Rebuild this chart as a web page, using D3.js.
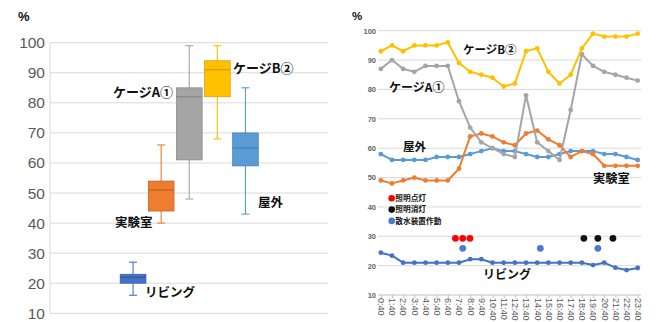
<!DOCTYPE html>
<html>
<head>
<meta charset="utf-8">
<script src="https://cdn.jsdelivr.net/npm/d3@7"></script>
<style>
  html, body { margin: 0; padding: 0; background: #fff; }
  svg { display: block; }
  .jp { font-family: "Noto Sans CJK JP", "Noto Sans", sans-serif; font-weight: bold; fill: #111; }
</style>
</head>
<body>
<svg id="chart" width="658" height="322"></svg>
<script>
// ---- Box plot: humidity distribution per location ----
const boxSeries = ["リビング", "実験室", "ケージA①", "ケージB②", "屋外"];
const boxMin    = [16, 40, 48, 68, 43];
const boxQ1     = [20, 44, 61, 82, 59];
const boxMedian = [22, 51, 82, 91, 65];
const boxQ3     = [23, 54, 85, 94, 70];
const boxMax    = [27, 66, 99, 99, 85];
const leftTicks = [10, 20, 30, 40, 50, 60, 70, 80, 90, 100];

// ---- Line chart: hourly humidity ----
const timeLabels = ["0:40", "1:40", "2:40", "3:40", "4:40", "5:40", "6:40", "7:40",
  "8:40", "9:40", "10:40", "11:40", "12:40", "13:40", "14:40", "15:40",
  "16:40", "17:40", "18:40", "19:40", "20:40", "21:40", "22:40", "23:40"];
const cageB   = [93, 95, 93, 95, 95, 95, 96, 89, 86, 85, 84, 81, 82, 93, 94, 86, 82, 85, 94, 99, 98, 98, 98, 99];
const cageA   = [87, 90, 87, 86, 88, 88, 88, 76, 67, 62, 60, 58, 57, 78, 62, 59, 56, 73, 92, 88, 86, 85, 84, 83];
const outdoor = [58, 56, 56, 56, 56, 57, 57, 57, 58, 59, 60, 59, 59, 58, 57, 57, 58, 59, 59, 59, 58, 58, 57, 56];
const lab     = [49, 48, 49, 50, 49, 49, 49, 53, 64, 65, 64, 62, 61, 65, 66, 63, 61, 57, 59, 58, 54, 54, 54, 54];
const living  = [24.4, 23.4, 21, 21, 21, 21, 21, 21, 22.2, 22.2, 21, 21, 21, 21, 21, 21, 21, 21, 21, 20.2, 21, 19.3, 18.5, 19.2];
const rightTicks = [10, 20, 30, 40, 50, 60, 70, 80, 90, 100];

// Events (time of day in hours, level on the humidity axis)
const lightsOnHours  = [7.35, 8.0, 8.65];
const lightsOffHours = [18.85, 20.1, 21.45];
const sprinklerHours = [8.0, 14.95, 20.1];
const lightsLevel = 29.3;
const sprinklerLevel = 25.9;
const eventLegend = ["照明点灯", "照明消灯", "散水装置作動"];

const svg = d3.select("#chart");
const gridColor = "#d9d9d9";
const tickColor = "#595959";

// ================= Left: box plot =================
const L = { x0: 50, x1: 328, y0: 313.3, y1: 42.7 };
const yL = d3.scaleLinear().domain([10, 100]).range([L.y0, L.y1]);
const xL = d3.scaleBand().domain(boxSeries).range([119, 259.5]).paddingInner(0.08).paddingOuter(0.04);
const boxColors = ["#4472C4", "#ED7D31", "#A5A5A5", "#FFC000", "#5B9BD5"];
const medianColors = ["#2F559C", "#B85A1C", "#7F7F7F", "#C99700", "#3D78B5"];

const gL = svg.append("g");
gL.append("g").selectAll("line").data(leftTicks).join("line")
  .attr("x1", L.x0).attr("x2", L.x1)
  .attr("y1", d => yL(d)).attr("y2", d => yL(d))
  .attr("stroke", gridColor).attr("stroke-width", 1);
gL.append("line").attr("x1", L.x0).attr("x2", L.x0).attr("y1", yL(100)).attr("y2", yL(10))
  .attr("stroke", gridColor);

const axisL = d3.axisLeft(yL).tickValues(leftTicks).tickSize(0).tickPadding(0);
const gAxL = gL.append("g").attr("transform", `translate(45,0)`).call(axisL);
gAxL.select(".domain").remove();
gAxL.selectAll("text").attr("font-family", "Liberation Sans, Arial, sans-serif")
  .attr("font-size", 15.5).attr("fill", tickColor);

gL.append("text").attr("x", 18).attr("y", 21).attr("font-family", "Liberation Sans, Arial, sans-serif")
  .attr("font-weight", "bold").attr("font-size", 13).attr("fill", "#111").text("%");

const boxes = gL.append("g").selectAll("g").data(boxSeries).join("g");
boxes.each(function (name, i) {
  const g = d3.select(this);
  const bx = xL(name), bw = xL.bandwidth(), cx = bx + bw / 2, cap = 4;
  const col = boxColors[i];
  // whiskers
  g.append("line").attr("x1", cx).attr("x2", cx).attr("y1", yL(boxMax[i])).attr("y2", yL(boxQ3[i]))
    .attr("stroke", col).attr("stroke-width", 1.1);
  g.append("line").attr("x1", cx).attr("x2", cx).attr("y1", yL(boxQ1[i])).attr("y2", yL(boxMin[i]))
    .attr("stroke", col).attr("stroke-width", 1.1);
  g.append("line").attr("x1", cx - cap).attr("x2", cx + cap).attr("y1", yL(boxMax[i])).attr("y2", yL(boxMax[i]))
    .attr("stroke", col).attr("stroke-width", 1.1);
  g.append("line").attr("x1", cx - cap).attr("x2", cx + cap).attr("y1", yL(boxMin[i])).attr("y2", yL(boxMin[i]))
    .attr("stroke", col).attr("stroke-width", 1.1);
  // box
  g.append("rect").attr("x", bx).attr("width", bw)
    .attr("y", yL(boxQ3[i])).attr("height", yL(boxQ1[i]) - yL(boxQ3[i]))
    .attr("fill", col).attr("stroke", medianColors[i]).attr("stroke-width", 0.6);
  g.append("line").attr("x1", bx).attr("x2", bx + bw).attr("y1", yL(boxMedian[i])).attr("y2", yL(boxMedian[i]))
    .attr("stroke", medianColors[i]).attr("stroke-width", 1);
});

const leftLabels = [
  { t: "ケージB②", x: 233, y: 72.5, s: 13 },
  { t: "ケージA①", x: 113, y: 96.5, s: 13 },
  { t: "屋外", x: 258, y: 207, s: 12.5 },
  { t: "実験室", x: 115, y: 227, s: 12.5 },
  { t: "リビング", x: 145, y: 297, s: 12.5 }
];
gL.append("g").selectAll("text").data(leftLabels).join("text").attr("class", "jp")
  .attr("x", d => d.x).attr("y", d => d.y).attr("font-size", d => d.s).text(d => d.t);

// ================= Right: hourly lines =================
const R = { gx0: 378, gx1: 641, px0: 380.8, px1: 637.7, y0: 295, y1: 30.7 };
const hourOffset = 40 / 60;
const xR = d3.scaleLinear().domain([hourOffset, 23 + hourOffset]).range([R.px0, R.px1]);
const yR = d3.scaleLinear().domain([10, 100]).range([R.y0, R.y1]);
const hourOf = i => i + hourOffset;

const gR = svg.append("g");
gR.append("g").selectAll("line").data(rightTicks.filter(d => d > 10)).join("line")
  .attr("x1", R.gx0).attr("x2", R.gx1)
  .attr("y1", d => yR(d)).attr("y2", d => yR(d))
  .attr("stroke", gridColor).attr("stroke-width", 1);

// category axis at the bottom
const xAxisR = d3.axisBottom(xR).tickValues(timeLabels.map((_, i) => hourOf(i)))
  .tickFormat((d, i) => timeLabels[i]).tickSize(3).tickSizeOuter(0);
const gAxX = gR.append("g").attr("transform", `translate(0,${R.y0})`).call(xAxisR);
gAxX.select(".domain").attr("d", `M${R.gx0},0H${R.gx1}`).attr("stroke", "#bfbfbf");
gAxX.selectAll(".tick line").attr("stroke", "#bfbfbf");
gAxX.selectAll("text")
  .attr("font-family", "Liberation Sans, Arial, sans-serif").attr("font-size", 9)
  .attr("fill", tickColor)
  .attr("transform", "rotate(90)").attr("text-anchor", "start")
  .attr("x", 3).attr("y", 0).attr("dy", "0.35em");

const axisR = d3.axisLeft(yR).tickValues(rightTicks).tickSize(0).tickPadding(0);
const gAxR = gR.append("g").attr("transform", `translate(376,0)`).call(axisR);
gAxR.select(".domain").remove();
gAxR.selectAll("text").attr("font-family", "Liberation Sans, Arial, sans-serif")
  .attr("font-size", 7.5).attr("font-weight", "bold").attr("fill", "#666");

gR.append("text").attr("x", 352).attr("y", 20).attr("font-family", "Liberation Sans, Arial, sans-serif")
  .attr("font-weight", "bold").attr("font-size", 11.5).attr("fill", "#111").text("%");

const lineSeries = [
  { v: outdoor, c: "#5B9BD5" },
  { v: lab, c: "#ED7D31" },
  { v: cageA, c: "#A5A5A5" },
  { v: cageB, c: "#FFC000" },
  { v: living, c: "#4472C4" }
];
const lineGen = d3.line().x((d, i) => xR(hourOf(i))).y(d => yR(d));
lineSeries.forEach(s => {
  const g = gR.append("g");
  g.append("path").attr("d", lineGen(s.v)).attr("fill", "none")
    .attr("stroke", s.c).attr("stroke-width", 2).attr("stroke-linejoin", "round");
  g.selectAll("circle").data(s.v).join("circle")
    .attr("cx", (d, i) => xR(hourOf(i))).attr("cy", d => yR(d)).attr("r", 2.4)
    .attr("fill", s.c);
});

// event markers
const events = [
  { hours: lightsOnHours, level: lightsLevel, c: "#FF0000" },
  { hours: lightsOffHours, level: lightsLevel, c: "#111111" },
  { hours: sprinklerHours, level: sprinklerLevel, c: "#4A7BD0" }
];
events.forEach(e => {
  gR.append("g").selectAll("circle").data(e.hours).join("circle")
    .attr("cx", d => xR(d)).attr("cy", yR(e.level)).attr("r", 3.4).attr("fill", e.c);
});

// event legend
const lg = gR.append("g").selectAll("g").data(eventLegend).join("g")
  .attr("transform", (d, i) => `translate(391.7,${198.3 + i * 11.3})`);
lg.append("circle").attr("r", 3.3).attr("fill", (d, i) => events[i].c);
lg.append("text").attr("class", "jp").attr("x", 3.6).attr("dy", "0.36em")
  .attr("font-size", 7.7).text(d => d);

const rightLabels = [
  { t: "ケージB②", x: 463, y: 54, s: 11.5 },
  { t: "ケージA①", x: 389, y: 92, s: 12 },
  { t: "屋外", x: 403, y: 150.5, s: 11.5 },
  { t: "実験室", x: 593, y: 182.5, s: 12.3 },
  { t: "リビング", x: 483, y: 279, s: 12 }
];
gR.append("g").selectAll("text").data(rightLabels).join("text").attr("class", "jp")
  .attr("x", d => d.x).attr("y", d => d.y).attr("font-size", d => d.s).text(d => d.t);
</script>
</body>
</html>
